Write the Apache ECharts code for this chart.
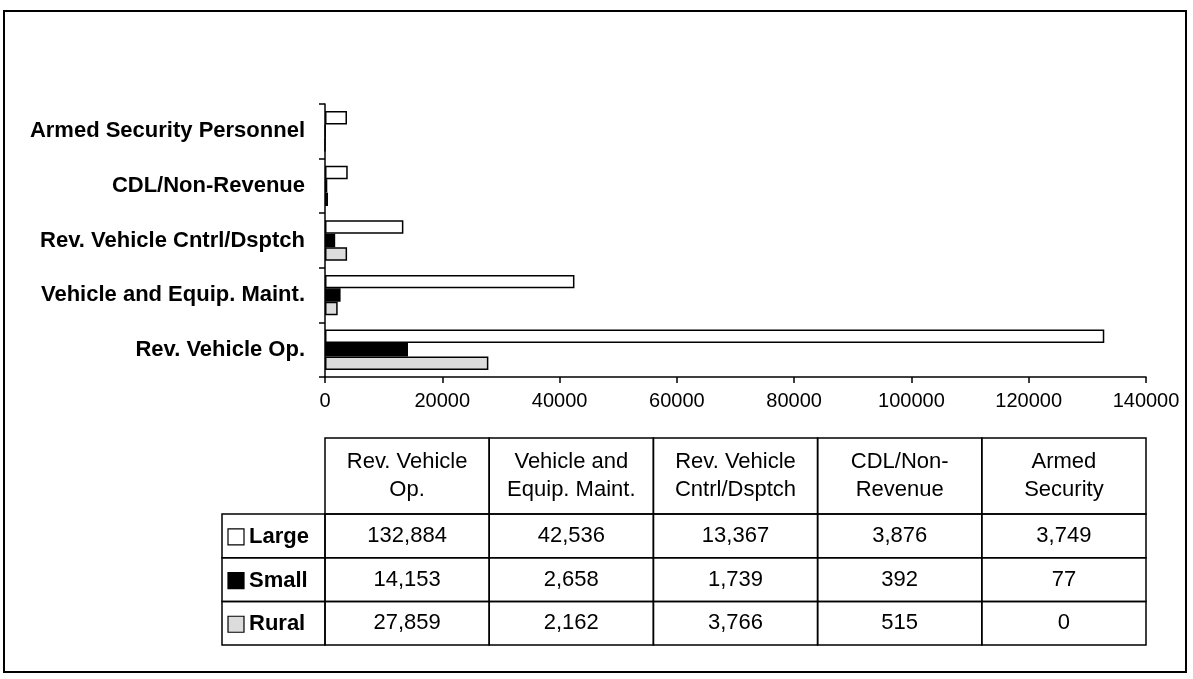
<!DOCTYPE html>
<html lang="en">
    <head>
        <meta charset="UTF-8"/>
        <script src="https://cdn.jsdelivr.net/npm/echarts@6/dist/echarts.min.js"></script>
        <title>Personnel by function</title>
        <style>
            html, body { margin: 0; padding: 0; background: #fff; }
        </style>
    </head>
    <body>
        <div id="main" style="width: 1193px;height:679px;"></div>
        <script type="text/javascript">

            var categories = ['Rev. Vehicle Op.', 'Vehicle and Equip. Maint.', 'Rev. Vehicle Cntrl/Dsptch', 'CDL/Non-Revenue', 'Armed Security Personnel'];
            var tableHeads = ['Rev. Vehicle\nOp.', 'Vehicle and\nEquip. Maint.', 'Rev. Vehicle\nCntrl/Dsptch', 'CDL/Non-\nRevenue', 'Armed\nSecurity'];
            var large = [132884, 42536, 13367, 3876, 3749];
            var small = [14153, 2658, 1739, 392, 77];
            var rural = [27859, 2162, 3766, 515, 0];
            var xTicks = [0, 20000, 40000, 60000, 80000, 100000, 120000, 140000];

            var seriesNames = ['Large', 'Small', 'Rural'];
            var seriesData = [large, small, rural];
            var fills = ['#ffffff', '#000000', '#dcdcdc'];

            // layout
            var gridLeft = 325, gridRight = 1146, gridTop = 104, gridBottom = 377;
            var tableLeft = 222, headTop = 438, headBottom = 514, rowH = 43.7;
            var colW = (gridRight - gridLeft) / categories.length;
            var font = '"Liberation Sans", Arial, sans-serif';

            var myChart = echarts.init(document.getElementById('main'));

            // the data table under the plot, drawn with graphic elements
            var els = [];
            // outer frame
            els.push({
                type: 'rect', shape: {x: 4, y: 11, width: 1182, height: 661},
                style: {fill: 'none', stroke: '#000', lineWidth: 2}, silent: true
            });
            // header cells
            for (var c = 0; c < categories.length; c++) {
                var x0 = gridLeft + c * colW;
                els.push({
                    type: 'rect', shape: {x: x0, y: headTop, width: colW, height: headBottom - headTop},
                    style: {fill: 'none', stroke: '#000', lineWidth: 1.5}, silent: true
                });
                els.push({
                    type: 'text', x: x0 + colW / 2, y: (headTop + headBottom) / 2,
                    style: {
                        text: tableHeads[c], fill: '#000', align: 'center', verticalAlign: 'middle',
                        font: '22px ' + font, lineHeight: 28
                    }, silent: true
                });
            }
            // data rows
            for (var r = 0; r < seriesNames.length; r++) {
                var y0 = headBottom + r * rowH;
                els.push({
                    type: 'rect', shape: {x: tableLeft, y: y0, width: gridLeft - tableLeft, height: rowH},
                    style: {fill: 'none', stroke: '#000', lineWidth: 1.5}, silent: true
                });
                els.push({
                    type: 'rect', shape: {x: tableLeft + 6, y: y0 + rowH / 2 - 7, width: 16, height: 16},
                    style: {fill: fills[r], stroke: '#000', lineWidth: 1.2}, silent: true
                });
                els.push({
                    type: 'text', x: tableLeft + 27, y: y0 + rowH / 2 + 1,
                    style: {
                        text: seriesNames[r], fill: '#000', align: 'left', verticalAlign: 'middle',
                        font: 'bold 22px ' + font
                    }, silent: true
                });
                for (var c = 0; c < categories.length; c++) {
                    var x0 = gridLeft + c * colW;
                    els.push({
                        type: 'rect', shape: {x: x0, y: y0, width: colW, height: rowH},
                        style: {fill: 'none', stroke: '#000', lineWidth: 1.5}, silent: true
                    });
                    els.push({
                        type: 'text', x: x0 + colW / 2, y: y0 + rowH / 2,
                        style: {
                            text: seriesData[r][c].toLocaleString('en-US'), fill: '#000',
                            align: 'center', verticalAlign: 'middle',
                            font: '22px ' + font
                        }, silent: true
                    });
                }
            }

            var series = [];
            for (var i = 0; i < seriesNames.length; i++) {
                series.push({
                    name: seriesNames[i],
                    type: 'bar',
                    data: seriesData[i],
                    barGap: '0%',
                    barCategoryGap: '26%',
                    itemStyle: {color: fills[i], borderColor: '#000', borderWidth: 1.5},
                    silent: true
                });
            }

            option = {
                backgroundColor: '#fff',
                animation: false,
                textStyle: {fontFamily: font},
                grid: {left: gridLeft, right: 1193 - gridRight, top: gridTop, bottom: 679 - gridBottom, containLabel: false},
                xAxis: {
                    type: 'value',
                    min: xTicks[0],
                    max: xTicks[xTicks.length - 1],
                    interval: xTicks[1] - xTicks[0],
                    axisLine: {show: true, lineStyle: {color: '#000', width: 1.5}},
                    axisTick: {show: true, length: 6, lineStyle: {color: '#000', width: 1.5}},
                    splitLine: {show: false},
                    axisLabel: {
                        color: '#000', fontSize: 20, margin: 14,
                        formatter: function (v) { return String(v); }
                    }
                },
                yAxis: {
                    type: 'category',
                    data: categories,
                    axisLine: {show: true, lineStyle: {color: '#000', width: 1.5}},
                    axisTick: {show: true, length: 6, lineStyle: {color: '#000', width: 1.5}},
                    axisLabel: {color: '#000', fontSize: 22, fontWeight: 'bold', margin: 20}
                },
                graphic: {elements: els},
                series: series
            };

            myChart.setOption(option);

        </script>
    </body>
</html>
